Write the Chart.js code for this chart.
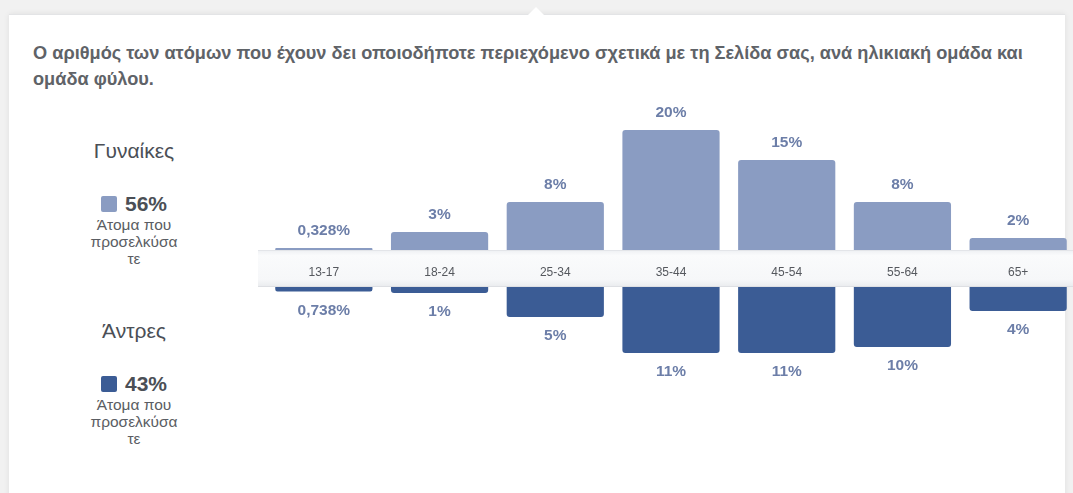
<!DOCTYPE html>
<html>
<head>
<meta charset="utf-8">
<script src="https://cdn.jsdelivr.net/npm/chart.js@4"></script>
<style>
  html, body { margin: 0; padding: 0; }
  body { width: 1073px; height: 493px; overflow: hidden; background: #f1f1f1; position: relative; font-family: "Liberation Sans", Arial, sans-serif; }
  .panel { position: absolute; left: 9px; top: 14px; width: 1056px; height: 490px; background: #fff; border-top: 1px solid #e3e4e6; box-shadow: 0 0 6px rgba(0,0,0,0.08); }
  .notch { position: absolute; left: 528px; top: 7px; width: 0; height: 0; border-left: 8px solid transparent; border-right: 8px solid transparent; border-bottom: 8px solid #fff; }
  .title { position: absolute; left: 33px; top: 40px; width: 1035px; font-size: 18.2px; font-weight: bold; color: #5f6368; line-height: 26px; white-space: nowrap; }
  .leg { position: absolute; left: 79px; width: 110px; text-align: center; color: #4b4f56; }
  .leg .name { font-size: 21px; line-height: 24px; }
  .leg .pct { font-size: 21px; font-weight: bold; line-height: 24px; margin-top: 0; }
  .leg .sq { display: inline-block; width: 16px; height: 16px; border-radius: 2px; vertical-align: -1px; margin-right: 8px; }
  .leg .sub { font-size: 15.5px; line-height: 17px; color: #5a5d63; }
  #wrapW { position: absolute; left: 256px; top: 100px; width: 820px; height: 187px; }
  #wrapM { position: absolute; left: 256px; top: 287px; width: 820px; height: 130px; }
</style>
</head>
<body>
<div class="panel"></div>
<div class="notch"></div>
<div class="title">Ο αριθμός των ατόμων που έχουν δει οποιοδήποτε περιεχόμενο σχετικά με τη Σελίδα σας, ανά ηλικιακή ομάδα και<br>ομάδα φύλου.</div>

<div class="leg" style="top:139px">
  <div class="name">Γυναίκες</div>
  <div class="pct" style="margin-top:29px"><span class="sq" style="background:#8a9cc2"></span>56%</div>
  <div class="sub">Άτομα που<br>προσελκύσα<br>τε</div>
</div>
<div class="leg" style="top:319px">
  <div class="name">Άντρες</div>
  <div class="pct" style="margin-top:29px"><span class="sq" style="background:#3b5c95"></span>43%</div>
  <div class="sub">Άτομα που<br>προσελκύσα<br>τε</div>
</div>

<div id="wrapW"><canvas id="chartW"></canvas></div>
<div id="wrapM"><canvas id="chartM"></canvas></div>

<script>
// data
const ageGroups = ['13-17', '18-24', '25-34', '35-44', '45-54', '55-64', '65+'];
const women = [0.328, 3, 8, 20, 15, 8, 2];
const men = [0.738, 1, 5, 11, 11, 10, 4];

const colWomen = '#8a9cc2';
const colMen = '#3b5c95';
const colLabel = '#6c7ea8';

function fmtPct(v) {
  if (v < 1) return v.toFixed(3).replace('.', ',') + '%';
  return Math.round(v) + '%';
}

// draws value labels above (women) or below (men) each bar
const valueLabels = {
  id: 'valueLabels',
  afterDatasetsDraw(chart, args, opts) {
    const ctx = chart.ctx;
    const meta = chart.getDatasetMeta(0);
    const vals = chart.data.datasets[0].data;
    ctx.save();
    ctx.font = 'bold 15.5px "Liberation Sans", Arial, sans-serif';
    ctx.fillStyle = colLabel;
    ctx.textAlign = 'center';
    ctx.textBaseline = 'middle';
    meta.data.forEach((bar, i) => {
      ctx.fillText(fmtPct(vals[i]), bar.x, bar.y + opts.offset);
    });
    ctx.restore();
  }
};

// the grey band behind the age labels
const band = {
  id: 'band',
  beforeDraw(chart) {
    const x = chart.scales.x;
    const ctx = chart.ctx;
    const top = x.top, h = x.bottom - x.top;
    ctx.save();
    const g = ctx.createLinearGradient(0, top, 0, top + h);
    g.addColorStop(0, '#eef0f3');
    g.addColorStop(0.15, '#fafbfc');
    g.addColorStop(0.8, '#f6f7f9');
    g.addColorStop(1, '#e9ebee');
    ctx.fillStyle = g;
    ctx.fillRect(2, top, chart.width, h);
    ctx.fillStyle = '#e3e5e9';
    ctx.fillRect(2, top, chart.width, 1);
    ctx.fillStyle = '#dddfe3';
    ctx.fillRect(2, top + h - 1, chart.width, 1);
    ctx.restore();
  }
};

Chart.defaults.font.family = '"Liberation Sans", Arial, sans-serif';
Chart.defaults.animation = false;

new Chart(document.getElementById('chartW'), {
  type: 'bar',
  data: {
    labels: ageGroups,
    datasets: [{
      data: women,
      backgroundColor: colWomen,
      borderRadius: 3,
      categoryPercentage: 1,
      barPercentage: 0.84
    }]
  },
  options: {
    responsive: true,
    maintainAspectRatio: false,
    layout: { padding: { left: 10, right: 0, top: 0, bottom: 0 } },
    plugins: { legend: { display: false }, tooltip: { enabled: false }, valueLabels: { offset: -17 } },
    scales: {
      x: {
        grid: { display: false },
        border: { display: false },
        ticks: { color: '#55585e', font: { size: 12 }, padding: 7 },
        afterFit(scale) { scale.height = 37; }
      },
      y: { display: false, min: 0, max: 25 }
    }
  },
  plugins: [band, valueLabels]
});

new Chart(document.getElementById('chartM'), {
  type: 'bar',
  data: {
    labels: ageGroups,
    datasets: [{
      data: men,
      backgroundColor: colMen,
      borderRadius: 3,
      categoryPercentage: 1,
      barPercentage: 0.84
    }]
  },
  options: {
    responsive: true,
    maintainAspectRatio: false,
    layout: { padding: { left: 10, right: 0, top: 0, bottom: 0 } },
    plugins: { legend: { display: false }, tooltip: { enabled: false }, valueLabels: { offset: 19 } },
    scales: {
      x: { display: false },
      y: { display: false, min: 0, max: 130 / 6, reverse: true }
    }
  },
  plugins: [valueLabels]
});
</script>
</body>
</html>
